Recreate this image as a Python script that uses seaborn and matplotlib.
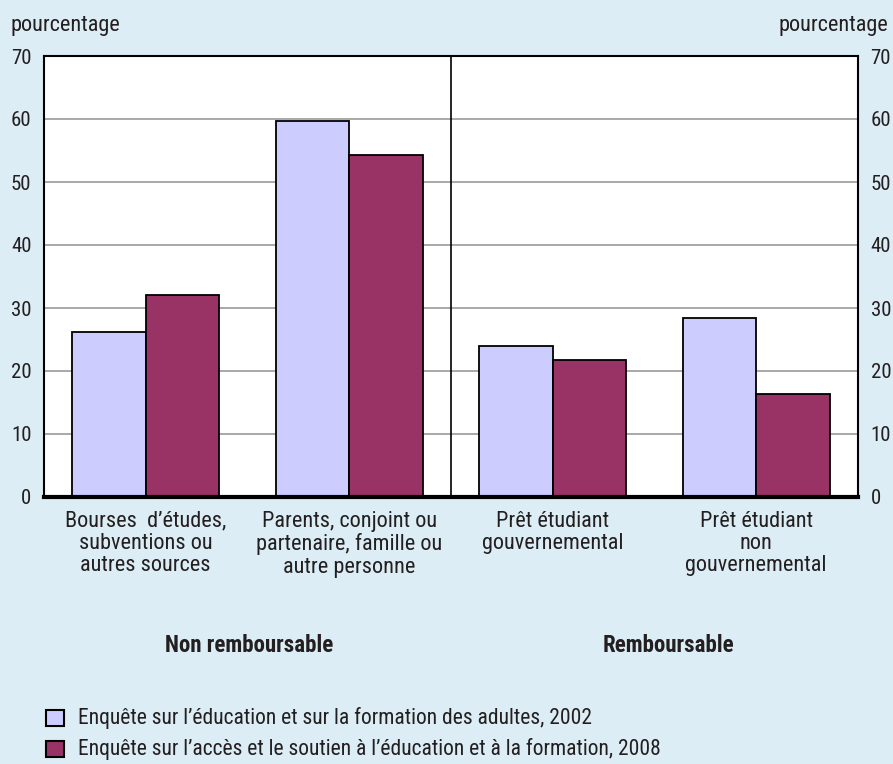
import pandas as pd
import numpy as np
import matplotlib.pyplot as plt
import seaborn as sns
from matplotlib import font_manager

# data
categories = ["Bourses  d\u2019\u00e9tudes,\nsubventions ou\nautres sources",
              "Parents, conjoint ou\npartenaire, famille ou\nautre personne",
              "Pr\u00eat \u00e9tudiant\ngouvernemental",
              "Pr\u00eat \u00e9tudiant\nnon\ngouvernemental"]
series = ["Enqu\u00eate sur l\u2019\u00e9ducation et sur la formation des adultes, 2002",
          "Enqu\u00eate sur l\u2019acc\u00e8s et le soutien \u00e0 l\u2019\u00e9ducation et \u00e0 la formation, 2008"]
values_2002 = [26.2, 59.7, 24.0, 28.4]
values_2008 = [32.1, 54.3, 21.7, 16.3]
groups = ["Non remboursable", "Remboursable"]
yticks = [0, 10, 20, 30, 40, 50, 60, 70]

df = pd.DataFrame({
    "cat": categories * 2,
    "serie": [series[0]] * 4 + [series[1]] * 4,
    "val": values_2002 + values_2008,
})

names = {f.name for f in font_manager.fontManager.ttflist}

bg = "#DCEDF5"
sns.set_style("white")
fams = [f for f in ['Liberation Sans Narrow', 'Roboto Condensed', 'DejaVu Sans Condensed'] if f in names]
plt.rcParams['font.family'] = fams + ['DejaVu Sans']
if not fams:
    plt.rcParams['font.stretch'] = 'condensed'
txt = "#231F20"

fig = plt.figure(figsize=(8.93, 7.64), dpi=100, facecolor=bg)
ax = fig.add_axes([44 / 893, 1 - 497 / 764, 814 / 893, 441 / 764])
ax.set_facecolor("white")

sns.barplot(data=df, x="cat", y="val", hue="serie", order=categories,
            hue_order=series, palette=["#CCCCFF", "#993366"], width=0.72,
            edgecolor="black", linewidth=1.3, saturation=1, ax=ax, legend=False)

ax.set_ylim(0, 70)
ax.set_xlim(-0.5, 3.5)
ax.set_yticks(yticks)
for y in yticks[1:-1]:
    ax.axhline(y, color="#999999", lw=1.2, zorder=0)
ax.axvline(1.5, color="black", lw=1.2)

for s in ["left", "right", "top"]:
    ax.spines[s].set_linewidth(1.5)
    ax.spines[s].set_color("black")
ax.spines["bottom"].set_linewidth(3)
ax.spines["bottom"].set_color("black")

ax.tick_params(axis="y", length=0, labelsize=15, labelcolor=txt, labelright=True, pad=9)
ax.tick_params(axis="x", length=0, labelsize=16, labelcolor=txt, pad=10)
for lab in ax.get_xticklabels():
    lab.set_linespacing(1.08)
ax.set_xlabel("")
ax.set_ylabel("")

fig.text(10 / 893, 1 - 25 / 764, "pourcentage", fontsize=16, color=txt, ha="left", va="center")
fig.text(888 / 893, 1 - 25 / 764, "pourcentage", fontsize=16, color=txt, ha="right", va="center")

fig.text(249 / 893, 1 - 645 / 764, groups[0], fontsize=16.5,
         fontweight="bold", color=txt, ha="center", va="center")
fig.text(668 / 893, 1 - 645 / 764, groups[1], fontsize=16.5,
         fontweight="bold", color=txt, ha="center", va="center")

# legend
colors = ["#CCCCFF", "#993366"]
for i, (lab, c) in enumerate(zip(series, colors)):
    yy = 1 - (718 + i * 31) / 764
    fig.patches.append(plt.Rectangle((46 / 893, yy - 8 / 764), 18 / 893, 16 / 764,
                                     facecolor=c, edgecolor="black", lw=1.5,
                                     transform=fig.transFigure, figure=fig))
    fig.text(78 / 893, yy, lab, fontsize=15.5, color=txt, ha="left", va="center")

fig.savefig("out.png", dpi=100, facecolor=bg)
